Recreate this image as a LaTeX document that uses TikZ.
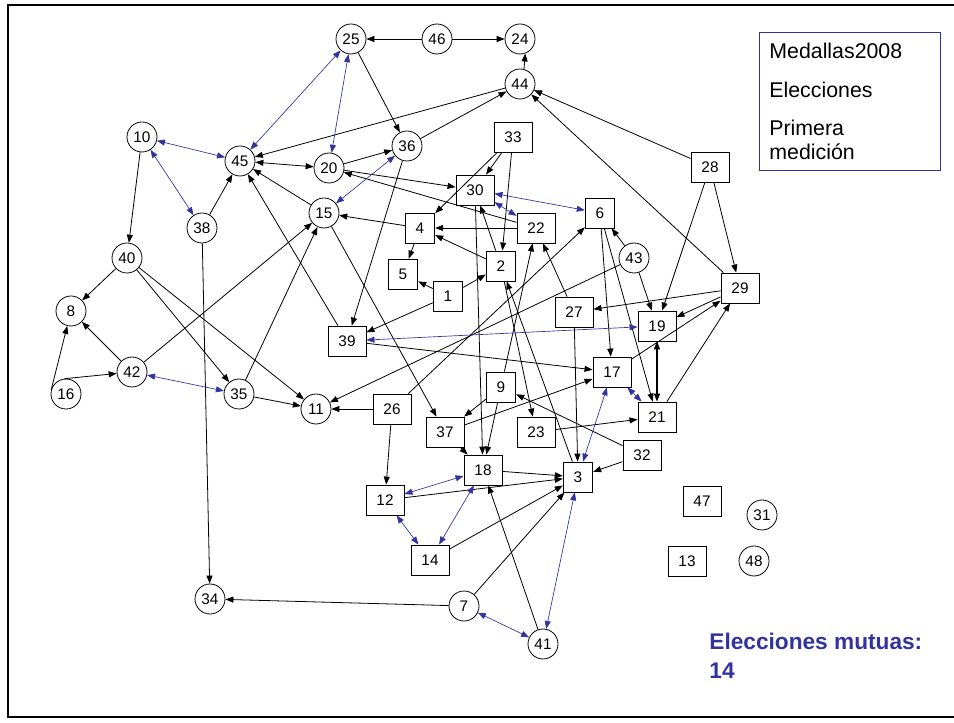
\documentclass[tikz,border=0pt]{standalone}
\usepackage{fontspec}
\setmainfont{Liberation Sans}
\usetikzlibrary{arrows.meta}
\definecolor{mutblue}{RGB}{51,51,160}

\begin{document}
\begin{tikzpicture}[x=0.75pt, y=-0.75pt, line width=0.6pt,
  font=\fontsize{11.5}{13}\selectfont,
  >={Triangle[length=6pt,width=4.5pt]},
  circ/.style={draw, circle, minimum size=22.5pt, inner sep=0pt},
  sq/.style={draw, rectangle, minimum height=22.5pt, inner xsep=7.9pt, inner ysep=0pt},
  mut/.style={<->, mutblue, line width=0.5pt}]
\useasboundingbox (0,0) rectangle (954,723);
\draw[line width=1.8pt] (958,5) -- (8,5) -- (8,717) -- (958,717);

% actors as circles
\node(n25)[circ] at (351, 39) {25};
\node(n46)[circ] at (437, 39) {46};
\node(n24)[circ] at (520, 39) {24};
\node(n44)[circ] at (520, 84) {44};
\node(n10)[circ] at (142, 137) {10};
\node(n45)[circ] at (240, 161) {45};
\node(n20)[circ] at (329, 168) {20};
\node(n36)[circ] at (407, 146) {36};
\node(n15)[circ] at (324, 213) {15};
\node(n38)[circ] at (202, 228) {38};
\node(n40)[circ] at (127, 258) {40};
\node(n8)[circ] at (71, 311) {8};
\node(n42)[circ] at (132, 372) {42};
\node(n16)[circ] at (66, 394) {16};
\node(n35)[circ] at (239, 394) {35};
\node(n11)[circ] at (316, 409) {11};
\node(n43)[circ] at (634, 258) {43};
\node(n34)[circ] at (210, 599) {34};
\node(n7)[circ] at (464, 606) {7};
\node(n41)[circ] at (543, 644) {41};
\node(n31)[circ] at (762, 515) {31};
\node(n48)[circ] at (754, 561) {48};

% actors as boxes
\node(n33)[sq] at (513, 137) {33};
\node(n28)[sq] at (710, 167) {28};
\node(n30)[sq] at (475, 190) {30};
\node(n22)[sq] at (536, 228) {22};
\node(n6)[sq] at (600, 213) {6};
\node(n4)[sq] at (420, 228) {4};
\node(n5)[sq] at (403, 274) {5};
\node(n2)[sq] at (501, 266) {2};
\node(n1)[sq] at (448, 296) {1};
\node(n27)[sq] at (574, 312) {27};
\node(n29)[sq] at (740, 288) {29};
\node(n19)[sq] at (657, 326) {19};
\node(n39)[sq] at (347, 341) {39};
\node(n17)[sq] at (612, 372) {17};
\node(n9)[sq] at (501, 387) {9};
\node(n21)[sq] at (657, 417) {21};
\node(n26)[sq] at (392, 409) {26};
\node(n37)[sq] at (445, 432) {37};
\node(n23)[sq] at (536, 432) {23};
\node(n32)[sq] at (642, 455) {32};
\node(n18)[sq] at (483, 470) {18};
\node(n3)[sq] at (578, 477) {3};
\node(n12)[sq] at (385, 500) {12};
\node(n14)[sq] at (430, 560) {14};
\node(n47)[sq] at (702, 501) {47};
\node(n13)[sq] at (687, 561) {13};

\node(legend)[draw=mutblue, anchor=north west, align=left, inner xsep=7.5pt,
  inner ysep=8pt, text width=121pt, font=\fontsize{16}{18}\selectfont]
  at (759, 32) {Medallas2008\\[11pt]Elecciones\\[10.5pt]Primera\\medición};
\node(mutuas)[anchor=north west, inner sep=0pt, align=left, text=mutblue,
  font=\bfseries\fontsize{17}{21.75}\selectfont] at (709, 633) {Elecciones mutuas:\\14};

% one-way choices
\path[->]
(n46) edge (n25)
(n46) edge (n24)
(n44.75) edge (n24.-70)
(n25) edge (n36)
(n44) edge (n45)
(n36) edge (n44)
(n28) edge (n44)
(n29) edge (n44)
(n10) edge (n40)
(n38) edge (n45)
(n20) edge (n36)
(n15) edge (n45)
(n39) edge (n45)
(n20) edge (n30)
(n22) edge (n20)
(n4) edge (n15)
(n22) edge (n4)
(n2) edge (n4)
(n33) edge (n4)
(n33) edge (n30)
(n33) edge (n2)
(n2) edge (n30)
(n4) edge (n5)
(n1) edge (n5)
(n1) edge (n2)
(n1) edge (n39)
(n36) edge (n39)
(n30) edge (n18)
(n9) edge (n22)
(n27) edge (n22)
(n3) edge (n2)
(n2) edge (n23)
(n27) edge (n3)
(n6) edge (n17)
(n6) edge (n21)
(n43) edge (n6)
(n43) edge (n19)
(n28) edge (n19)
(n28) edge (n29)
(n29) edge (n27)
(n29) edge (n19)
(n17) edge (n29)
(n21) edge (n29)
(n39) edge (n17)
(n37) edge (n17)
(n15) edge (n37)
(n26) edge (n6)
(n43) edge (n11)
(n9) edge (n37)
(n26) edge (n11)
(n26) edge (n12)
(n40) edge (n8)
(n40) edge (n35)
(n40) edge (n11)
(n42) edge (n8)
(n42) edge (n15)
(n35) edge (n15)
(n16.165) edge (n8)
(n16.95) edge (n42)
(n35) edge (n11)
(n38) edge (n34)
(n7) edge (n34)
(n7) edge (n3)
(n14) edge (n3)
(n12) edge (n3)
(n41) edge (n18)
(n18) edge (n3)
(n37) edge (n18)
(n32) edge (n3)
(n32) edge (n9)
(n23) edge (n21)
(n9) edge (n18)
(n45) edge[<->] (n20)
(n21) edge[<->, line width=0.9pt] (n19);

% mutual choices
\path[mut]
(n25) edge (n45)
(n25) edge (n20)
(n10) edge (n45)
(n10) edge (n38)
(n36) edge (n15)
(n30) edge (n22)
(n30) edge (n6)
(n42) edge (n35)
(n39) edge (n19)
(n17) edge (n21)
(n17) edge (n3)
(n12) edge (n18)
(n12) edge (n14)
(n18) edge (n14)
(n3) edge (n41)
(n7) edge (n41);
\end{tikzpicture}
\end{document}
